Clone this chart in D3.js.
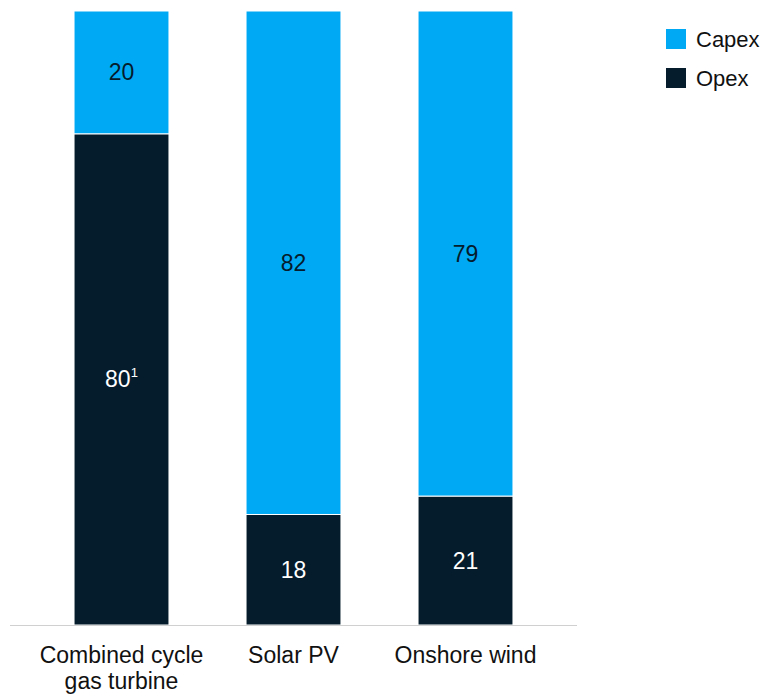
<!DOCTYPE html>
<html>
<head>
<meta charset="utf-8">
<script src="https://cdn.jsdelivr.net/npm/d3@7"></script>
<style>
  body { margin: 0; background: #fff; }
  svg text { font-family: "Liberation Sans", Arial, sans-serif; }
</style>
</head>
<body>
<svg id="chart" width="770" height="696"></svg>
<script>
  // share of lifetime cost, %
  const categories = ["Combined cycle|gas turbine", "Solar PV", "Onshore wind"];
  const opex = [80, 18, 21];
  const capex = [20, 82, 79];
  const notes = ["1", "", ""];   // superscript footnote on opex label

  const series = [
    { key: "Opex", values: opex, color: "#051c2c", text: "#ffffff" },
    { key: "Capex", values: capex, color: "#00a9f4", text: "#051c2c" }
  ];

  const svg = d3.select("#chart");

  const x = d3.scaleBand()
    .domain(categories)
    .range([35.5, 551.5])
    .paddingInner(0.448)
    .paddingOuter(0.224);

  const y = d3.scaleLinear().domain([0, 100]).range([625, 11]);

  // stack the rows
  const rows = categories.map((c, i) => ({ cat: c, Opex: opex[i], Capex: capex[i], note: notes[i] }));
  const stacked = d3.stack().keys(["Opex", "Capex"])(rows);

  const layer = svg.append("g").selectAll("g")
    .data(stacked)
    .join("g");

  layer.selectAll("rect")
    .data(d => d.map(p => ({ p, key: d.key })))
    .join("rect")
    .attr("x", d => x(d.p.data.cat))
    .attr("width", x.bandwidth())
    .attr("y", d => y(d.p[1]))
    .attr("height", d => y(d.p[0]) - y(d.p[1]))
    .attr("fill", d => series.find(s => s.key == d.key).color)
    .attr("stroke", "#fff")
    .attr("stroke-width", 1);

  // value labels
  layer.selectAll("text")
    .data(d => d.map(p => ({ p, key: d.key })))
    .join("text")
    .attr("x", d => x(d.p.data.cat) + x.bandwidth() / 2)
    .attr("y", d => (y(d.p[0]) + y(d.p[1])) / 2)
    .attr("dy", "0.35em")
    .attr("text-anchor", "middle")
    .attr("font-size", 23)
    .attr("fill", d => series.find(s => s.key == d.key).text)
    .each(function (d) {
      const t = d3.select(this);
      t.append("tspan").text(d.p[1] - d.p[0]);
      if (d.key == "Opex" && d.p.data.note) {
        t.append("tspan")
          .attr("font-size", 13)
          .attr("dy", "-0.8em")
          .text(d.p.data.note);
      }
    });

  // baseline
  svg.append("line")
    .attr("x1", 10).attr("x2", 577)
    .attr("y1", y(0) + 0.5).attr("y2", y(0) + 0.5)
    .attr("stroke", "#d0d0d0")
    .attr("stroke-width", 1);

  // category labels
  svg.append("g").selectAll("text")
    .data(categories)
    .join("text")
    .attr("x", d => x(d) + x.bandwidth() / 2)
    .attr("y", 663)
    .attr("text-anchor", "middle")
    .attr("font-size", 23)
    .attr("fill", "#111")
    .each(function (d) {
      const lines = d.split("|");
      d3.select(this).selectAll("tspan")
        .data(lines)
        .join("tspan")
        .attr("x", x(d) + x.bandwidth() / 2)
        .attr("dy", (l, i) => i ? 26 : 0)
        .text(l => l);
    });

  // legend
  const legend = svg.append("g").selectAll("g")
    .data(series.slice().reverse())
    .join("g")
    .attr("transform", (d, i) => `translate(666, ${29 + i * 39})`);

  legend.append("rect")
    .attr("width", 20).attr("height", 20)
    .attr("fill", d => d.color);

  legend.append("text")
    .attr("x", 30).attr("y", 10)
    .attr("dy", "0.35em")
    .attr("font-size", 22)
    .attr("fill", "#111")
    .text(d => d.key);
</script>
</body>
</html>
